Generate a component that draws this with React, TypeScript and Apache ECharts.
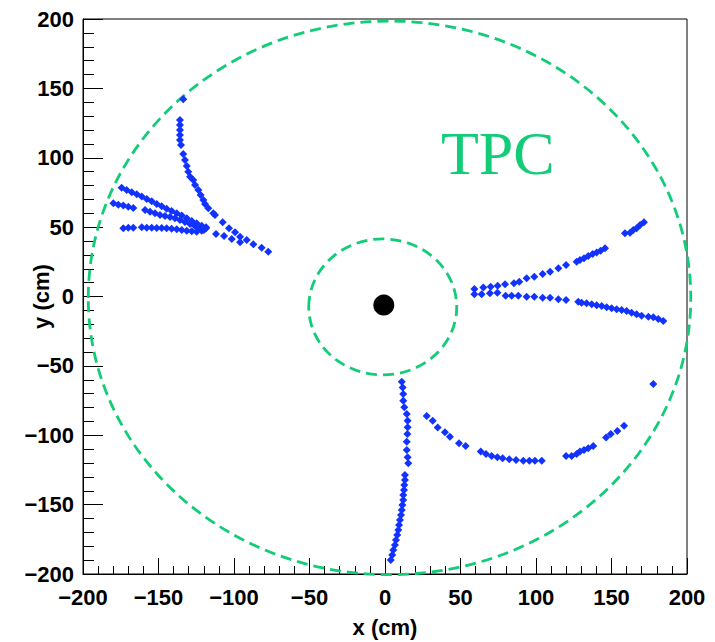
import React, { useEffect, useRef } from "react";
import * as echarts from "echarts";

// Hit positions (x, y in cm) grouped by reconstructed track
const trackNW1: [number, number][] = [
  [-133.6, 142.1], [-135.8, 127.2], [-135.8, 123.6], [-135.8, 120.0], [-135.8, 116.4],
  [-135.8, 112.8], [-135.1, 109.2], [-133.6, 102.7], [-132.5, 98.4], [-131.3, 94.1],
  [-130.3, 90.0], [-129.1, 86.3], [-127.0, 84.0], [-125.8, 80.4], [-123.6, 76.8],
  [-122.1, 73.2], [-120.3, 69.5], [-119.2, 66.7], [-117.0, 63.6], [-113.7, 60.0],
  [-112.6, 58.7], [-107.5, 53.5], [-103.3, 49.2], [-99.3, 46.3], [-96.0, 43.1],
  [-91.6, 40.7], [-87.2, 37.6], [-81.7, 35.2], [-77.3, 32.3],
];
const trackNW2: [number, number][] = [
  [-174.4, 78.4], [-171.1, 76.8], [-167.7, 75.1], [-164.4, 73.7], [-161.1, 72.0],
  [-157.8, 70.3], [-154.5, 68.6], [-151.2, 66.7], [-147.9, 65.0], [-144.6, 63.3],
  [-141.3, 61.6], [-137.9, 60.0], [-134.6, 58.3], [-131.3, 56.4], [-128.0, 54.4],
  [-124.7, 52.8], [-121.4, 51.0], [-118.5, 49.9],
];
const trackNW3: [number, number][] = [
  [-179.9, 67.2], [-176.6, 66.2], [-173.3, 65.5], [-170.0, 64.7], [-166.7, 63.8],
  [-158.9, 62.3], [-155.6, 61.1], [-152.3, 60.0], [-149.0, 58.7], [-145.7, 58.0],
  [-142.4, 57.3], [-139.1, 56.4], [-135.8, 55.2], [-132.5, 53.7], [-129.1, 52.3],
  [-125.8, 50.8], [-122.5, 49.4], [-119.9, 47.9],
  [-111.9, 45.0], [-106.6, 43.6], [-101.5, 41.4], [-96.0, 39.1],
];
const trackNW4: [number, number][] = [
  [-173.3, 49.2], [-170.0, 49.6], [-166.7, 49.6], [-161.1, 49.9], [-157.8, 49.6],
  [-154.5, 49.6], [-151.2, 49.4], [-147.9, 49.4], [-144.6, 49.2], [-141.3, 48.9],
  [-137.9, 48.4], [-134.6, 47.9], [-131.3, 47.4], [-128.0, 47.0], [-124.7, 46.7],
  [-121.4, 47.4], [-118.5, 49.2],
];
const trackE1: [number, number][] = [
  [59.2, 5.4], [65.1, 6.4], [70.0, 7.1], [74.6, 7.8], [79.5, 8.8], [85.4, 9.5],
  [88.9, 10.7], [93.8, 13.1], [98.9, 14.3], [104.4, 16.2], [109.3, 17.9], [114.8, 20.3],
  [119.9, 22.7], [126.9, 25.1], [129.1, 26.3], [131.8, 27.5], [134.6, 29.2], [137.5, 30.6],
  [140.2, 31.8], [142.8, 33.0], [145.7, 34.7], [158.9, 45.6], [162.3, 46.0], [164.4, 47.9],
  [166.6, 49.2], [168.9, 51.5], [171.5, 53.5],
];
const trackE2: [number, number][] = [
  [59.2, 1.6], [64.0, 1.6], [69.5, 2.3], [74.4, 2.7], [79.9, 0.6], [83.9, 0.6],
  [88.3, 0.6], [93.8, -0.1], [98.9, -0.1], [104.4, -0.9], [109.3, -0.9], [114.8, -2.0],
  [119.9, -2.5], [128.0, -3.7], [130.2, -4.5], [133.5, -4.9], [136.9, -5.6], [140.2, -6.3],
  [143.5, -6.8], [146.8, -7.8], [150.1, -8.5], [153.4, -9.2], [156.7, -9.7], [160.0, -10.5],
  [163.3, -11.7], [166.6, -12.8], [169.9, -13.8], [174.4, -14.6], [177.7, -15.0],
  [181.0, -16.2], [184.3, -17.7],
];
const trackS1: [number, number][] = [
  [11.1, -61.4], [11.7, -65.5], [12.1, -70.3], [12.1, -75.1], [12.8, -79.9], [14.4, -84.7],
  [15.0, -89.5], [15.0, -94.3], [14.8, -99.1], [14.4, -104.6], [14.4, -110.6], [15.0, -115.9],
  [15.4, -120.2], [13.2, -128.6], [13.2, -132.3], [12.8, -135.9], [12.6, -139.5],
  [12.1, -143.1], [12.1, -146.7], [11.5, -150.3], [11.1, -153.9], [10.6, -157.5],
  [9.9, -161.1], [9.3, -164.7], [8.8, -168.3], [8.1, -171.9], [7.3, -175.5], [6.6, -179.1],
  [5.5, -182.7], [4.8, -186.3], [3.8, -189.9],
];
const trackS2: [number, number][] = [
  [27.6, -86.1], [31.6, -89.5], [34.9, -94.5], [39.7, -97.9], [43.0, -101.0], [49.0, -105.8],
  [53.4, -107.7], [63.4, -111.8], [66.9, -113.5], [70.6, -114.9], [74.4, -115.9],
  [77.9, -116.6], [82.3, -117.3], [86.8, -117.8], [91.6, -118.3], [95.6, -118.3],
  [99.3, -118.3], [103.8, -118.3],
  [119.9, -114.9], [123.6, -114.9], [126.9, -113.5], [129.1, -111.8], [131.8, -110.6],
  [134.6, -109.4], [137.9, -107.7], [146.4, -101.7], [149.5, -99.1], [153.9, -96.9],
  [158.3, -93.1],
];
const strayHits: [number, number][] = [[177.7, -63.1]];

// Detector outlines: [centre x, centre y, radius] in cm
const detectorRings: [number, number, number][] = [
  [-1.5, -7.5, 49],
  [3, -1, 199.5],
];
const vertex: [number, number][] = [[-0.8, -6.2]];

const xTicks = { min: -200, max: 200, step: 50 };
const yTicks = { min: -200, max: 200, step: 50 };

const GREEN = "#12cc78";
const BLUE = "#1232ff";
const AXIS_FONT = '"Liberation Sans", Arial, sans-serif';

const minusLabel = (v: number) => (v < 0 ? "\u2212" + Math.abs(v) : String(v));

export default function App() {
  const ref = useRef<HTMLDivElement>(null);

  useEffect(() => {
    if (!ref.current) return;
    const chart = echarts.init(ref.current, undefined, { renderer: "svg" });

    const hitTracks = [
      trackNW1, trackNW2, trackNW3, trackNW4, trackE1, trackE2, trackS1, trackS2, strayHits,
    ];

    const axisCommon = {
      type: "value" as const,
      axisLine: { show: true, onZero: false, lineStyle: { color: "#000", width: 1 } },
      splitLine: { show: false },
      axisLabel: {
        color: "#000",
        fontFamily: AXIS_FONT,
        fontWeight: "bold" as const,
        fontSize: 22,
        formatter: minusLabel,
      },
      nameLocation: "middle" as const,
      nameMoveOverlap: false,
      nameTextStyle: {
        color: "#000",
        fontFamily: AXIS_FONT,
        fontWeight: "bold" as const,
        fontSize: 22,
      },
    };

    chart.setOption({
      animation: false,
      backgroundColor: "#fff",
      grid: {
        left: 83,
        top: 19,
        width: 604,
        height: 555,
        outerBoundsMode: "none",
        containLabel: false,
        show: true,
        borderColor: "#000",
        borderWidth: 1,
        backgroundColor: "transparent",
      },
      xAxis: {
        ...axisCommon,
        min: xTicks.min,
        max: xTicks.max,
        interval: xTicks.step,
        name: "x (cm)",
        nameGap: 42,
        axisTick: { show: true, inside: true, length: 16, lineStyle: { color: "#000" } },
        minorTick: { show: true, splitNumber: 5, length: 8, lineStyle: { color: "#000" } },
        axisLabel: { ...axisCommon.axisLabel, margin: 12 },
      },
      yAxis: {
        ...axisCommon,
        min: yTicks.min,
        max: yTicks.max,
        interval: yTicks.step,
        name: "y (cm)",
        nameGap: 31,
        axisTick: { show: true, inside: true, length: 20, lineStyle: { color: "#000" } },
        minorTick: { show: true, splitNumber: 5, length: 11, lineStyle: { color: "#000" } },
        axisLabel: { ...axisCommon.axisLabel, margin: 9 },
      },
      graphic: [
        {
          type: "text",
          left: 441,
          top: 122,
          style: {
            text: "TPC",
            fill: GREEN,
            font: '62px "Liberation Serif", "Times New Roman", serif',
          },
        },
      ],
      series: [
        {
          type: "custom",
          coordinateSystem: "cartesian2d",
          data: detectorRings,
          clip: false,
          silent: true,
          z: 1,
          renderItem: (_params: any, api: any) => {
            const c = api.coord([api.value(0), api.value(1)]);
            const r = api.value(2);
            const s = api.size([r, r]);
            return {
              type: "ellipse",
              shape: { cx: c[0], cy: c[1], rx: s[0], ry: s[1] },
              style: { fill: "none", stroke: GREEN, lineWidth: 2.8, lineDash: [11, 6] },
            };
          },
        },
        {
          type: "scatter",
          data: vertex,
          symbol: "circle",
          symbolSize: 21,
          itemStyle: { color: "#000", opacity: 1 },
          z: 3,
        },
        ...hitTracks.map((pts) => ({
          type: "scatter",
          data: pts,
          symbol: "diamond",
          symbolSize: [8, 8],
          itemStyle: { color: BLUE, opacity: 1 },
          z: 4,
        })),
      ],
    });

    return () => chart.dispose();
  }, []);

  return (
    <div
      ref={ref}
      style={{ position: "fixed", left: 0, top: 0, width: 715, height: 642 }}
    />
  );
}
